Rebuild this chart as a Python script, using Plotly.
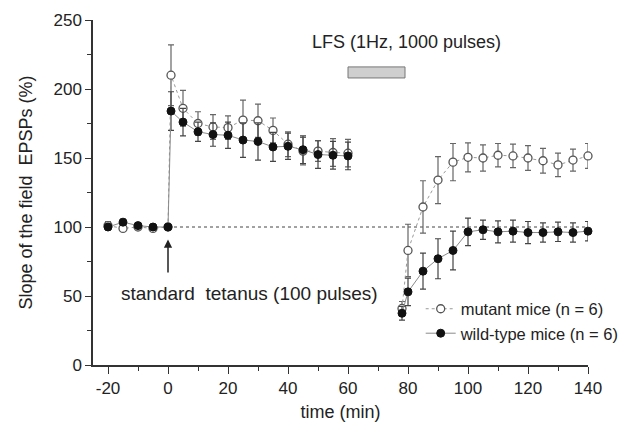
import plotly.graph_objects as go

# ---- data ----
time_min = [-20, -15, -10, -5, 0,
            1, 5, 10, 15, 20, 25, 30, 35, 40, 45, 50, 55, 60,
            None,
            78, 80, 85, 90, 95, 100, 105, 110, 115, 120, 125, 130, 135, 140]

mutant_mean = [101, 99, 100, 99, 100,
               210, 186, 175, 172.5, 172, 177.5, 177, 170, 160, 155, 155, 154, 153.5,
               None,
               41, 83, 114.5, 134, 147, 150.5, 150, 152, 151.5, 150, 148, 145, 148.5, 151.5]
mutant_sem = [3, 2, 2, 2, 2,
              22, 13, 8.5, 9, 8.5, 14.5, 12, 9, 9, 10, 7.5, 10, 10,
              None,
              5, 19, 19, 17, 13.5, 10.5, 9.5, 8.5, 8.5, 9, 9, 8.5, 8, 9]

wt_mean = [100, 103.5, 101, 100, 100,
           184, 176, 169, 167, 166.5, 163, 162, 158, 158.5, 156, 152.5, 152, 151.5,
           None,
           37.5, 53, 68, 77, 83, 96.5, 98, 96.5, 97, 96, 96, 96.5, 96, 97]
wt_sem = [2, 2, 2, 2, 2,
          14, 10, 7, 8.5, 9.5, 12.5, 13.5, 10.5, 9.5, 10, 10, 10, 10,
          None,
          5, 10, 13, 14.5, 14, 10, 7, 8, 8, 8, 7, 7, 7, 7]

series_names = ["mutant mice (n = 6)", "wild-type mice (n = 6)"]
baseline_level = 100
baseline_span = [0, 140]
lfs_window = [60, 79]
lfs_bar_y = [208, 216]
lfs_label_pos = [79.6, 234]
tetanus_label_pos = [-16.3, 52]
x_ticks = [-20, 0, 20, 40, 60, 80, 100, 120, 140]
x_tick_labels = ["-20", "0", "20", "40", "60", "80", "100", "120", "140"]
y_ticks = [0, 50, 100, 150, 200, 250]

FONT = "Liberation Sans, Arial, Helvetica, sans-serif"
TXT = "#222222"

fig = go.Figure()

fig.add_trace(go.Scatter(
    x=time_min, y=mutant_mean, name=series_names[0],
    mode="lines+markers", connectgaps=False, cliponaxis=False,
    line=dict(color="#9a9a9a", width=1, dash="dot"),
    marker=dict(symbol="circle", size=8, color="white",
                line=dict(color="#555555", width=1.3)),
    error_y=dict(type="data", array=mutant_sem, visible=True,
                 color="#666666", thickness=1.2, width=3),
))

fig.add_trace(go.Scatter(
    x=time_min, y=wt_mean, name=series_names[1],
    mode="lines+markers", connectgaps=False, cliponaxis=False,
    line=dict(color="#8a8a8a", width=1),
    marker=dict(symbol="circle", size=8, color="#111111",
                line=dict(color="#111111", width=1)),
    error_y=dict(type="data", array=wt_sem, visible=True,
                 color="#444444", thickness=1.2, width=3),
))

# dotted 100% reference line
fig.add_shape(type="line", xref="x", yref="y",
              x0=baseline_span[0], x1=baseline_span[1],
              y0=baseline_level, y1=baseline_level,
              line=dict(color="#444444", width=1, dash="dot"), layer="below")

# LFS bar
fig.add_shape(type="rect", xref="x", yref="y",
              x0=lfs_window[0], x1=lfs_window[1],
              y0=lfs_bar_y[0], y1=lfs_bar_y[1],
              fillcolor="#cfcfcf", line=dict(color="#777777", width=1))

fig.add_annotation(x=lfs_label_pos[0], y=lfs_label_pos[1], xref="x", yref="y",
                   text="LFS (1Hz, 1000 pulses)", showarrow=False,
                   font=dict(family=FONT, size=18, color=TXT))

fig.add_annotation(x=tetanus_label_pos[0], y=tetanus_label_pos[1], xref="x", yref="y",
                   xanchor="left",
                   text="standard  tetanus (100 pulses)", showarrow=False,
                   font=dict(family=FONT, size=19, color=TXT))

# arrow at tetanus
fig.add_annotation(x=0, y=91, ax=0, ay=66, xref="x", yref="y",
                   axref="x", ayref="y", text="", showarrow=True,
                   arrowhead=2, arrowsize=1.1, arrowwidth=1.5, arrowcolor="#222222")

fig.update_xaxes(
    range=[-25, 140], tickvals=x_ticks, ticktext=x_tick_labels,
    ticks="outside", ticklen=7, tickwidth=1.3, tickcolor="#333333",
    minor=dict(dtick=10, tick0=0, ticks="outside", ticklen=4, tickcolor="#333333"),
    showline=True, linecolor="#333333", linewidth=1.5,
    showgrid=False, zeroline=False, automargin=False,
    tickfont=dict(family=FONT, size=17, color=TXT),
    title=dict(text="time (min)", font=dict(family=FONT, size=18, color=TXT), standoff=8),
)
fig.update_yaxes(
    range=[0, 250], tickvals=y_ticks, ticks="outside", ticklen=6,
    tickwidth=1.3, tickcolor="#333333",
    minor=dict(dtick=25, tick0=0, ticks="outside", ticklen=4, tickcolor="#333333"),
    showline=True, linecolor="#333333", linewidth=1.5,
    showgrid=False, zeroline=False, automargin=False,
    tickfont=dict(family=FONT, size=17, color=TXT),
    title=dict(text="Slope of the field  EPSPs (%)",
               font=dict(family=FONT, size=18, color=TXT), standoff=16),
)

fig.update_layout(
    width=639, height=424,
    margin=dict(l=93, r=51, t=20, b=59),
    plot_bgcolor="white", paper_bgcolor="white",
    font=dict(family=FONT, color=TXT),
    legend=dict(x=0.662, y=0.213, xanchor="left", yanchor="top",
                bgcolor="rgba(0,0,0,0)", font=dict(family=FONT, size=16.5, color=TXT),
                itemwidth=30, tracegroupgap=0),
)

fig.write_html(
    "out.html",
    config={"displayModeBar": False},
    post_script="document.body.style.margin='0';document.body.style.overflow='hidden';",
)
